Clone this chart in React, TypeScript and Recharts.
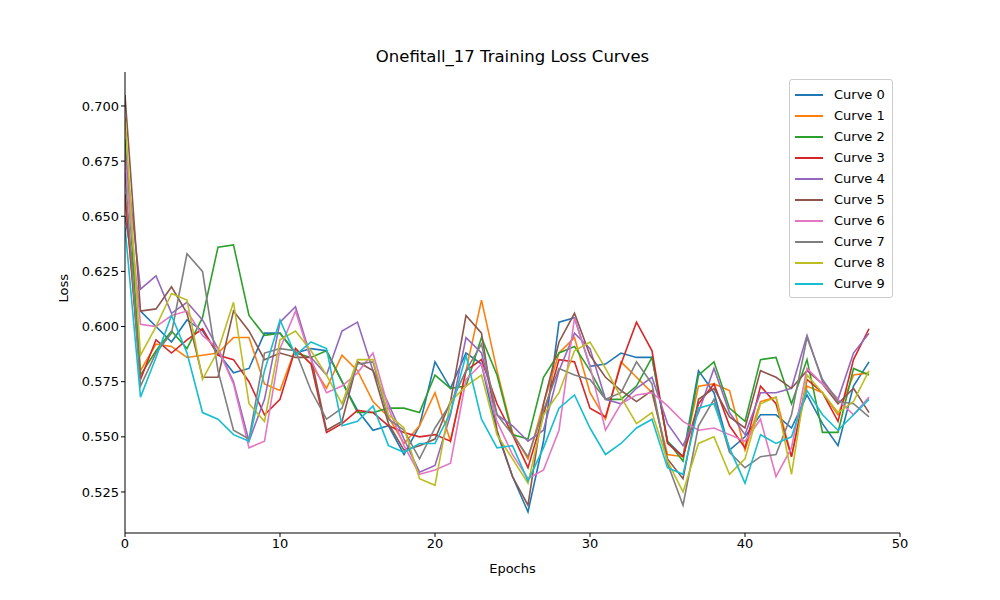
import { LineChart, Line, XAxis, YAxis } from 'recharts';

const epochs = Array.from({ length: 49 }, (_, i) => i);

const curve0 = [0.65, 0.607, 0.6, 0.593, 0.603, 0.598, 0.588, 0.579, 0.581, 0.597, 0.597, 0.588, 0.59, 0.589, 0.575, 0.562, 0.553, 0.555, 0.542, 0.555, 0.584, 0.572, 0.588, 0.583, 0.552, 0.532, 0.516, 0.548, 0.602, 0.604, 0.582, 0.583, 0.588, 0.586, 0.586, 0.548, 0.541, 0.58, 0.57, 0.544, 0.55, 0.56, 0.56, 0.554, 0.569, 0.556, 0.546, 0.573, 0.584];
const curve1 = [0.66, 0.58, 0.592, 0.591, 0.586, 0.587, 0.588, 0.595, 0.595, 0.574, 0.571, 0.59, 0.583, 0.572, 0.587, 0.58, 0.566, 0.559, 0.547, 0.555, 0.57, 0.548, 0.58, 0.612, 0.58, 0.552, 0.54, 0.565, 0.588, 0.595, 0.57, 0.558, 0.584, 0.577, 0.57, 0.542, 0.541, 0.573, 0.574, 0.571, 0.544, 0.566, 0.568, 0.541, 0.573, 0.57, 0.56, 0.578, 0.579];
const curve2 = [0.685, 0.578, 0.589, 0.598, 0.59, 0.604, 0.636, 0.637, 0.605, 0.596, 0.597, 0.588, 0.586, 0.589, 0.575, 0.561, 0.561, 0.563, 0.563, 0.561, 0.578, 0.572, 0.573, 0.595, 0.578, 0.551, 0.549, 0.577, 0.588, 0.591, 0.58, 0.567, 0.567, 0.573, 0.586, 0.548, 0.539, 0.578, 0.584, 0.563, 0.557, 0.585, 0.586, 0.565, 0.585, 0.552, 0.552, 0.581, 0.578];
const curve3 = [0.66, 0.576, 0.594, 0.588, 0.594, 0.599, 0.587, 0.585, 0.575, 0.56, 0.567, 0.59, 0.583, 0.552, 0.556, 0.562, 0.561, 0.555, 0.552, 0.55, 0.551, 0.548, 0.58, 0.585, 0.565, 0.551, 0.536, 0.56, 0.585, 0.584, 0.563, 0.559, 0.583, 0.602, 0.589, 0.547, 0.541, 0.565, 0.574, 0.555, 0.545, 0.573, 0.565, 0.541, 0.576, 0.57, 0.557, 0.585, 0.599];
const curve4 = [0.68, 0.617, 0.623, 0.606, 0.611, 0.603, 0.59, 0.575, 0.548, 0.567, 0.602, 0.609, 0.586, 0.578, 0.598, 0.602, 0.58, 0.565, 0.549, 0.534, 0.537, 0.56, 0.595, 0.588, 0.56, 0.555, 0.548, 0.553, 0.58, 0.597, 0.59, 0.567, 0.565, 0.572, 0.577, 0.556, 0.546, 0.561, 0.581, 0.561, 0.551, 0.57, 0.57, 0.572, 0.596, 0.575, 0.567, 0.588, 0.597];
const curve5 = [0.705, 0.607, 0.608, 0.618, 0.606, 0.577, 0.577, 0.607, 0.598, 0.585, 0.588, 0.586, 0.586, 0.553, 0.557, 0.584, 0.58, 0.556, 0.544, 0.546, 0.549, 0.566, 0.605, 0.597, 0.553, 0.532, 0.519, 0.565, 0.593, 0.606, 0.587, 0.577, 0.571, 0.566, 0.571, 0.54, 0.531, 0.567, 0.572, 0.559, 0.554, 0.58, 0.577, 0.572, 0.58, 0.574, 0.565, 0.572, 0.561];
const curve6 = [0.675, 0.601, 0.6, 0.605, 0.607, 0.596, 0.59, 0.574, 0.545, 0.548, 0.59, 0.607, 0.585, 0.57, 0.573, 0.579, 0.588, 0.563, 0.546, 0.533, 0.535, 0.538, 0.576, 0.583, 0.557, 0.542, 0.531, 0.535, 0.553, 0.604, 0.582, 0.553, 0.565, 0.569, 0.57, 0.564, 0.557, 0.553, 0.554, 0.551, 0.548, 0.558, 0.532, 0.545, 0.581, 0.574, 0.567, 0.56, 0.568];
const curve7 = [0.67, 0.573, 0.588, 0.597, 0.633, 0.625, 0.58, 0.553, 0.549, 0.588, 0.59, 0.589, 0.571, 0.558, 0.563, 0.583, 0.584, 0.558, 0.553, 0.54, 0.554, 0.565, 0.58, 0.592, 0.56, 0.551, 0.541, 0.562, 0.581, 0.578, 0.576, 0.567, 0.57, 0.584, 0.574, 0.538, 0.519, 0.555, 0.567, 0.543, 0.536, 0.541, 0.542, 0.56, 0.595, 0.576, 0.566, 0.565, 0.559];
const curve8 = [0.695, 0.587, 0.6, 0.615, 0.612, 0.576, 0.589, 0.611, 0.565, 0.557, 0.594, 0.598, 0.589, 0.578, 0.565, 0.585, 0.585, 0.56, 0.554, 0.531, 0.528, 0.566, 0.573, 0.578, 0.551, 0.54, 0.529, 0.56, 0.57, 0.589, 0.593, 0.581, 0.568, 0.556, 0.561, 0.539, 0.525, 0.547, 0.55, 0.533, 0.54, 0.565, 0.568, 0.533, 0.578, 0.57, 0.561, 0.566, 0.58];
const curve9 = [0.645, 0.568, 0.586, 0.605, 0.588, 0.561, 0.558, 0.551, 0.548, 0.58, 0.603, 0.587, 0.593, 0.59, 0.555, 0.557, 0.564, 0.546, 0.543, 0.547, 0.547, 0.561, 0.587, 0.558, 0.545, 0.546, 0.53, 0.545, 0.563, 0.569, 0.554, 0.542, 0.547, 0.554, 0.558, 0.536, 0.533, 0.563, 0.565, 0.545, 0.529, 0.551, 0.547, 0.55, 0.571, 0.56, 0.553, 0.56, 0.567];

const curves = [curve0, curve1, curve2, curve3, curve4, curve5, curve6, curve7, curve8, curve9];
const colors = ['#1f77b4', '#ff7f0e', '#2ca02c', '#d62728', '#9467bd', '#8c564b', '#e377c2', '#7f7f7f', '#bcbd22', '#17becf'];
const xTicks = [0, 10, 20, 30, 40, 50];
const yTicks = [0.525, 0.55, 0.575, 0.6, 0.625, 0.65, 0.675, 0.7];

const data = epochs.map((e, i) => {
  const row: Record<string, number> = { epoch: e };
  curves.forEach((c, k) => (row[`c${k}`] = c[i]));
  return row;
});

const font = 'DejaVu Sans, sans-serif';
const tick = { fill: '#000', fontSize: 13, fontFamily: font };

function LegendBox() {
  return (
    <div style={{ position: 'absolute', top: 79, left: 789, width: 104, boxSizing: 'border-box', border: '1px solid #ccc', borderRadius: 3, background: '#fff', padding: '4px 6px 3px 5px', fontFamily: font, fontSize: 13 }}>
      {colors.map((c, k) => (
        <div key={k} style={{ display: 'flex', alignItems: 'center', height: 21 }}>
          <span style={{ display: 'inline-block', width: 28, height: 2, background: c, marginRight: 11 }} />
          Curve {k}
        </div>
      ))}
    </div>
  );
}

export default function App() {
  return (
    <div style={{ position: 'absolute', left: 0, top: 0, width: 1000, height: 600, background: '#fff' }}>
      <div style={{ position: 'absolute', top: 47, left: 0, width: 1025, textAlign: 'center', fontFamily: font, fontSize: 16.5 }}>
        Onefitall_17 Training Loss Curves
      </div>
      <LineChart width={1000} height={600} data={data} margin={{ top: 72, right: 100, bottom: 37, left: 65 }}>
        <XAxis dataKey="epoch" type="number" domain={[0, 50]} ticks={xTicks} allowDataOverflow height={30}
          stroke="#000" tick={tick} tickSize={4}
          label={{ value: 'Epochs', position: 'insideBottom', offset: -10, fill: '#000', fontSize: 13, fontFamily: font }} />
        <XAxis xAxisId="top" orientation="top" type="number" domain={[0, 50]} tick={false} tickLine={false} stroke="#000" height={0} />
        <YAxis type="number" domain={[0.5064, 0.7154]} ticks={yTicks} allowDataOverflow width={60}
          stroke="#000" tick={tick} tickSize={4} tickFormatter={(v: number) => v.toFixed(3)}
          label={{ value: 'Loss', angle: -90, position: 'insideLeft', dx: -7, fill: '#000', fontSize: 13, fontFamily: font }} />
        <YAxis yAxisId="right" orientation="right" tick={false} tickLine={false} stroke="#000" width={0} />
        {colors.map((c, k) => (
          <Line key={k} dataKey={`c${k}`} stroke={c} strokeWidth={1.6} dot={false} isAnimationActive={false} />
        ))}
      </LineChart>
      <LegendBox />
    </div>
  );
}
